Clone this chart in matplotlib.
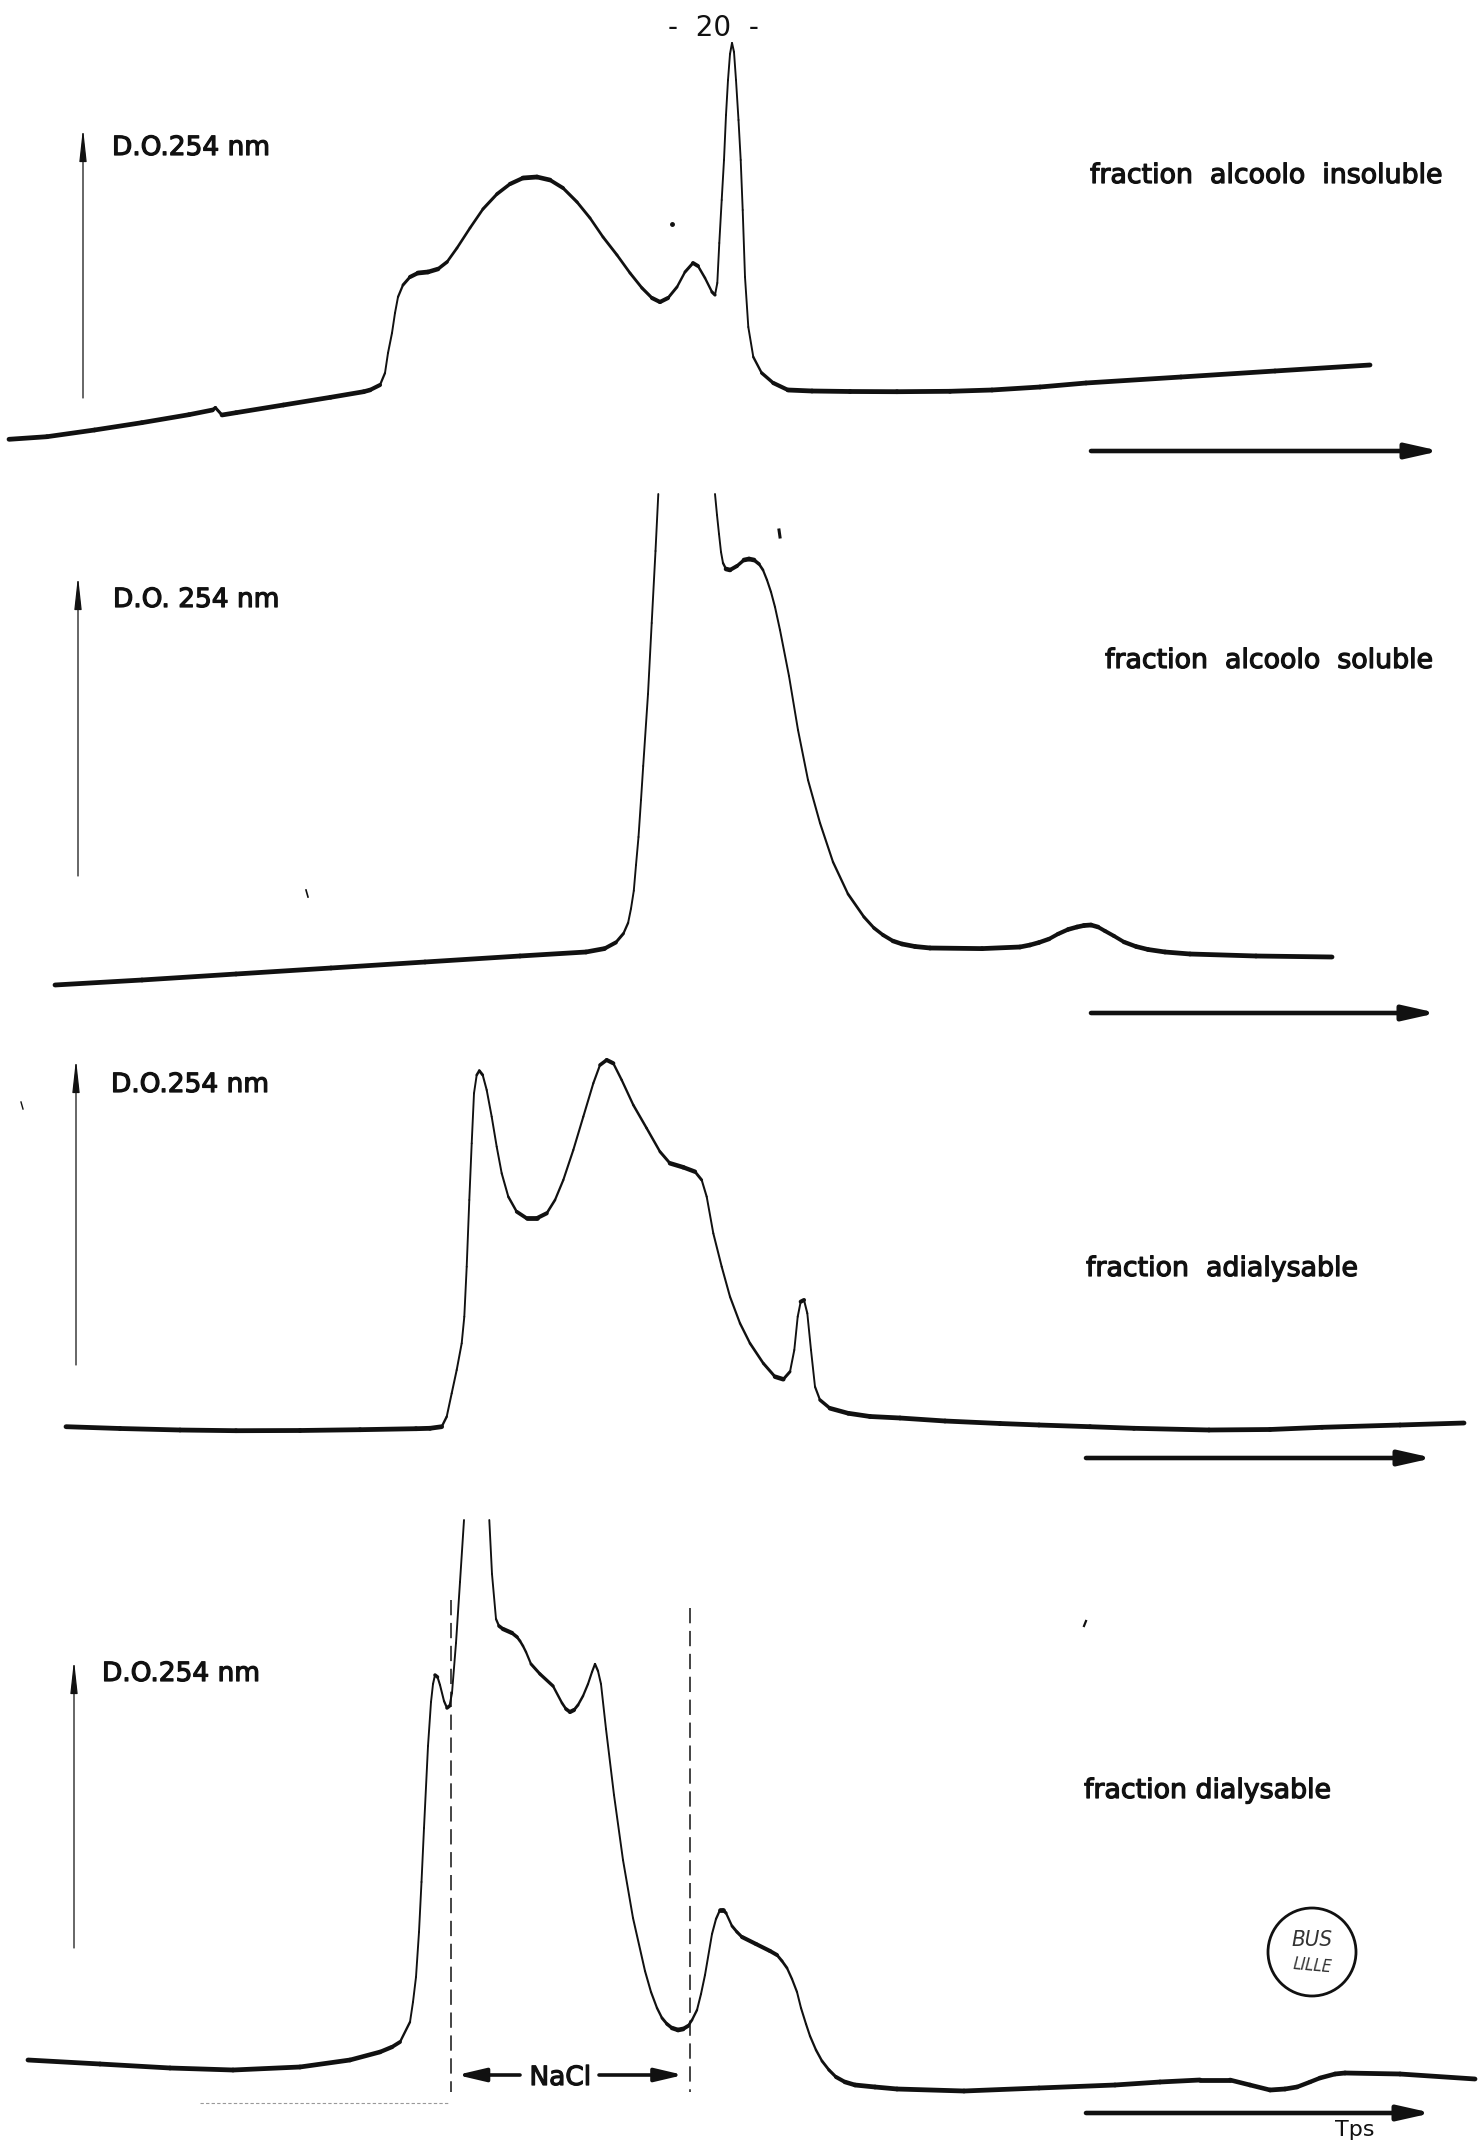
import numpy as np
import matplotlib
matplotlib.use("Agg")
import matplotlib.pyplot as plt
from matplotlib.collections import LineCollection
from matplotlib.patches import Circle
import matplotlib.patheffects as pe

plt.rcParams['font.family'] = ['DejaVu Sans']

W, H = 1481, 2142
INK = '#111111'
nan = np.nan

# ---------------- data ----------------
# elution time in chart-paper units, D.O. 254 nm in arbitrary units
time_insol = [9, 47, 94.5, 141.7, 188.9, 212.5, 215.4, 222, 236, 283.4,
              330.6, 363.7, 370, 380, 385, 388, 392, 395, 398, 403,
              410, 418, 428, 438, 447, 457, 470, 483, 497, 510,
              523, 537, 550, 563, 577, 590, 603, 617, 630, 642,
              652, 660, 668, 677, 685, 693, 698, 705, 712, 715,
              717.3, 719.3, 721.7, 724, 726, 728, 730, 732, 734, 736,
              738.5, 740.7, 742.7, 745, 748.3, 753.3, 761.7, 773.3, 788, 812,
              850, 897, 950, 992, 1040, 1086, 1181, 1275, 1370]
od_insol = [40.7, 43.3, 50, 57.3, 65.3, 70, 72.3, 65, 67.3, 75,
            82.7, 88.3, 90, 95, 107, 127, 147, 167, 183, 195,
            203, 207, 208, 211, 218, 232, 252, 271, 286, 296,
            302, 303, 300, 292, 278, 262, 243, 225, 207, 192,
            182, 178, 182, 193, 208, 217, 214, 202, 188, 185,
            197, 237, 280, 320, 365, 400, 426, 437, 428, 400,
            360, 320, 270, 203, 153, 123, 107, 97, 90, 89,
            88.5, 88.3, 88.7, 90, 93, 97, 103, 109, 115]

# nan = the pen runs off the chart paper
time_sol = [55, 142, 236, 331, 425, 520, 586, 604.5, 615.8, 623.4,
            628.1, 631, 633.8, 636, 638.5, 641, 643.2, 648, 651.7, 655.5,
            658.3, nan, 715, 717, 719, 721, 723, 726, 730, 737,
            744, 749, 754, 759, 763, 767, 771, 775, 780, 789,
            798, 808, 820, 833, 848, 864, 874, 883, 893, 902,
            915, 930, 982, 1020, 1030, 1039, 1049, 1058, 1068, 1077,
            1084, 1091, 1098, 1105, 1114, 1124, 1136, 1148, 1165, 1190,
            1256, 1332]
od_sol = [55, 60, 66, 72, 78, 84, 88, 91.4, 97.5, 106.4,
          117.1, 131.4, 149.3, 175, 203, 240, 274, 346, 417, 489,
          546, nan, 546, 525, 506, 488, 477, 471, 470, 474,
          480, 481, 480, 476, 470, 460, 448, 433, 410, 364,
          310, 260, 217, 178, 146, 123, 112, 105, 99, 96,
          93.5, 92, 91.4, 93, 95, 97.5, 101, 106, 110.5, 113,
          114.5, 115, 113, 109, 104, 98, 93.5, 90.5, 88, 86,
          84, 83]

time_adial = [66, 120, 180, 236, 300, 360, 416, 430, 441.7, 446.7,
              451.7, 456.7, 461.7, 464.3, 466.7, 469.3, 471.7, 474, 476.7, 479.3,
              482.7, 486.7, 491.7, 496.7, 501.7, 508.3, 516.7, 526.7, 536.7, 546.7,
              555, 563.3, 573.3, 583.3, 593.3, 600, 606.7, 613.3, 621.7, 633.3,
              646.7, 660, 670, 683.3, 695, 701.7, 706.7, 713.3, 721.7, 730,
              740, 750, 763.3, 775, 783.3, 790, 794.3, 797.7, 800.7, 804,
              807.3, 811, 815, 820, 830, 848.3, 870, 900, 945, 1000,
              1039, 1090, 1134, 1209, 1270, 1322, 1400, 1464]
od_adial = [73.3, 71.5, 70, 69.3, 69.5, 70.3, 71.3, 71.7, 73.3, 83.3,
            106.7, 130, 156.7, 183.3, 233.3, 300, 356.7, 406.7, 425, 429.3,
            425, 410, 383.3, 353.3, 326.7, 303.3, 288.3, 281.7, 281.7, 286.7,
            300, 320, 350, 383.3, 416.7, 435, 440, 436.7, 420, 395,
            371.7, 348.3, 336.7, 332.7, 328.3, 320, 303.3, 266.7, 233.3, 203.3,
            176.7, 156.7, 136.7, 123.3, 120.7, 128.3, 150, 183.3, 198.3, 200,
            186.7, 150, 113.3, 100, 91.7, 86.7, 83.5, 82, 79, 76.5,
            75, 73.3, 71.7, 70, 70.5, 72.7, 75, 77]

time_dial = [28, 100, 170, 233, 300, 350, 380, 392, 400, 410,
             413, 416, 419, 421.5, 424, 428, 431, 433, 435, 437.5,
             440, 444, 447, 449.5, 452, 456, 460, 464, nan, 489.3,
             492, 496, 499, 503, 512, 517, 520, 523, 526, 531,
             540, 553, 562, 566, 570, 574, 578, 583, 588, 592,
             595, 598, 601, 606, 614, 623, 633, 645, 651, 657,
             662, 667, 672, 678, 683, 688, 692, 697, 701, 705,
             712, 716, 720, 723, 726, 732, 737, 742, 756, 770,
             777, 782, 787, 792, 797, 801, 806, 810, 816, 822,
             829, 836, 845, 855, 875, 897, 964, 1039, 1115, 1160,
             1200, 1230, 1250, 1270, 1285, 1297, 1310, 1320, 1335, 1345,
             1400, 1475]
od_dial = [82, 78, 74, 72, 75, 82, 90, 95, 100, 120,
           140, 165, 210, 260, 314, 396, 440, 458, 467, 465,
           457, 441, 434, 436, 449, 499, 560, 622, nan, 622,
           568, 523, 516, 513, 509, 505, 501, 496, 490, 478,
           468, 456, 439, 433, 430, 432, 437, 446, 458, 470,
           478, 471, 458, 413, 347, 282, 224, 171, 150, 134,
           124, 118, 114, 112, 113, 116, 122, 132, 148, 167,
           208, 223, 232, 232, 229, 216, 210, 205, 198, 191,
           187, 181, 174, 163, 150, 134, 118, 106, 92, 81,
           72, 65, 60, 57, 55, 53, 51, 54, 57, 60,
           62, 62, 57, 52, 53, 55, 60, 64, 68, 69,
           68, 63]

nacl_start, nacl_end = 451, 689.5   # NaCl front (dashed lines) on the dialysable trace

panel_labels = ["fraction  alcoolo  insoluble", "fraction  alcoolo  soluble",
                "fraction  adialysable", "fraction dialysable"]
axis_labels = ["D.O.254 nm", "D.O. 254 nm", "D.O.254 nm", "D.O.254 nm"]
page_number = "-  20  -"
time_label = "Tps"

series = [(time_insol, od_insol), (time_sol, od_sol), (time_adial, od_adial), (time_dial, od_dial)]

# ---------------- layout (pixel bands of the page) ----------------
bands = [(0, 480), (480, 1040), (1040, 1500), (1500, 2142)]
layout = [
    dict(do=(112, 155), up=(83, 398, 128), lab=(1090, 183), tarrow=(451, 1091, 1440)),
    dict(do=(113, 607), up=(78, 876, 576), lab=(1105, 668), tarrow=(1013, 1091, 1437)),
    dict(do=(111, 1092), up=(76, 1365, 1059), lab=(1086, 1276), tarrow=(1458, 1086, 1433)),
    dict(do=(102, 1681), up=(74, 1948, 1660), lab=(1084, 1798), tarrow=(2113, 1086, 1432)),
]

fig = plt.figure(figsize=(W / 100, H / 100), dpi=100)
fig.patch.set_facecolor('white')

thick = [pe.withStroke(linewidth=0.9, foreground=INK)]


def arrow(ax, x0, y0, x1, y1, lw, hl, hw, ms=10):
    ax.annotate('', xy=(x1, y1), xytext=(x0, y0), annotation_clip=False,
                arrowprops=dict(arrowstyle=f'-|>,head_length={hl},head_width={hw}', lw=lw, color=INK,
                                shrinkA=0, shrinkB=0, mutation_scale=ms))


def trace(ax, t, a):
    pts = np.column_stack([np.asarray(t, float), np.asarray(a, float)])
    segs = np.stack([pts[:-1], pts[1:]], axis=1)
    segs = segs[np.isfinite(segs).all(axis=(1, 2))]
    d = segs[:, 1] - segs[:, 0]
    slope = np.abs(d[:, 1]) / np.maximum(np.abs(d[:, 0]), 1e-6)
    lw = 1.35 + 2.1 / (1 + (slope / 0.9) ** 2)
    lc = LineCollection(segs, linewidths=lw, colors=INK, capstyle='round', joinstyle='round')
    ax.add_collection(lc)


axes = []
for k, (top, bot) in enumerate(bands):
    ax = fig.add_axes([0, 1 - bot / H, 1, (bot - top) / H])
    ax.set_xlim(0, W)
    ax.set_ylim(0, bot - top)
    ax.axis('off')
    axes.append(ax)
    L = layout[k]

    def py(y, b=bot):
        return b - y

    trace(ax, *series[k])
    ux, ub, ut = L['up']
    arrow(ax, ux, py(ub), ux, py(ut), lw=0.9, hl=2.0, hw=0.22)
    ax.text(L['do'][0], py(L['do'][1]), axis_labels[k], fontsize=19, color=INK,
            ha='left', va='baseline', path_effects=thick)
    ax.text(L['lab'][0], py(L['lab'][1]), panel_labels[k], fontsize=19.3, color=INK,
            ha='left', va='baseline', path_effects=thick)
    ty, tx0, tx1 = L['tarrow']
    arrow(ax, tx0, py(ty), tx1, py(ty), lw=3.3, hl=2.0, hw=0.45)

# page number
axes[0].text(713, 480 - 36, page_number, fontsize=20, color=INK, ha='center', va='baseline')

# small specks of the scan
axes[0].plot([672], [480 - 224], 'o', ms=2.5, color=INK)
axes[1].plot([779, 780], [1040 - 530, 1040 - 537], color=INK, lw=2.2)
axes[1].plot([306, 308], [1040 - 890, 1040 - 897], color=INK, lw=1.2)
axes[2].plot([21, 23], [1500 - 1102, 1500 - 1109], color=INK, lw=1.0)
axes[3].plot([1084, 1086], [2142 - 1626, 2142 - 1621], color=INK, lw=1.6)

# NaCl markers on the dialysable trace
ax4 = axes[3]
b4 = bands[3][1]
for xn, ytop in ((nacl_start, 1600), (nacl_end, 1608)):
    ax4.plot([xn, xn], [b4 - ytop, b4 - 2092], color=INK, lw=1.1, ls=(0, (10, 5)))
arrow(ax4, 520, b4 - 2075, nacl_start + 6, b4 - 2075, lw=2.6, hl=1.7, hw=0.4)
arrow(ax4, 599, b4 - 2075, nacl_end - 6, b4 - 2075, lw=2.6, hl=1.7, hw=0.4)
ax4.text((nacl_start + nacl_end) / 2 - 10, b4 - 2085, "NaCl", fontsize=19, color=INK,
         ha='center', va='baseline', path_effects=thick)
ax4.plot([200, 450], [b4 - 2103, b4 - 2103], color='#999999', lw=0.8, ls=(0, (3, 2)))
ax4.text(1355, b4 - 2136, time_label, fontsize=16, color=INK, ha='center', va='baseline', clip_on=False)

# library stamp
ax4.add_patch(Circle((1312, b4 - 1952), 44, fill=False, lw=2.0, ec=INK))
ax4.text(1312, b4 - 1940, "BUS", fontsize=16, style='italic', color='#333333', ha='center', va='center',
         fontstretch='condensed')
ax4.text(1312, b4 - 1966, "LILLE", fontsize=12, style='italic', color='#333333', ha='center', va='center',
         rotation=-5, fontstretch='condensed')

fig.savefig('out.png', dpi=100, facecolor='white')
